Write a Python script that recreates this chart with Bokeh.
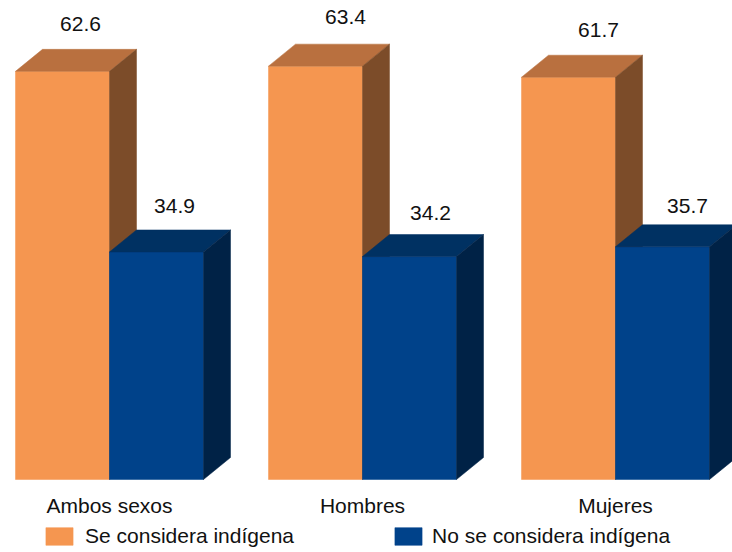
from bokeh.plotting import figure
from bokeh.models import Range1d, Legend, LegendItem, ColumnDataSource
from bokeh.embed import file_html
from bokeh.resources import INLINE
from bokeh.core.properties import value

# ---------------- data ----------------
categories = ["Ambos sexos", "Hombres", "Mujeres"]
series_names = ["Se considera indígena", "No se considera indígena"]
se_considera = [62.6, 63.4, 61.7]
no_se_considera = [34.9, 34.2, 35.7]

# ---------------- styling / geometry (screen px) ----------------
W, H = 732, 552
GROUP_PX = 253          # distance between group centres
BAR_PX = 94             # width of one front face
DEPTH_X_PX = 27         # 3D depth offset, horizontal
DEPTH_Y_PX = 22         # 3D depth offset, vertical
PX_PER_UNIT = 6.52      # vertical scale
LEFT_PX = 109           # frame x of first group centre
BOTTOM_PX = 73          # frame distance from bottom to baseline (value 0)

FONT = value("Liberation Sans")
FS = "21px"

orange = dict(front="#F59650", top="#B9703F", side="#7C4C29")
blue = dict(front="#00428A", top="#003162", side="#002246")

# per-label offsets (px) for value labels
label_dx = [[18, 30, 30], [18, 21, 25]]
label_dy = [[-47, -49, -47], [-46, -44, -41]]

x_range = Range1d(-LEFT_PX / GROUP_PX, (W - LEFT_PX) / GROUP_PX)
y_range = Range1d(-BOTTOM_PX / PX_PER_UNIT, (H - BOTTOM_PX) / PX_PER_UNIT)

p = figure(width=W, height=H, x_range=x_range, y_range=y_range,
           output_backend="svg", toolbar_location=None,
           x_axis_location=None, y_axis_location=None,
           min_border=0, outline_line_color=None,
           background_fill_color="white", border_fill_color="white")
p.grid.visible = False

bw = BAR_PX / GROUP_PX
dx = DEPTH_X_PX / GROUP_PX
dy = DEPTH_Y_PX / PX_PER_UNIT

front_renderers = []
for s, (vals, col) in enumerate([(se_considera, orange), (no_se_considera, blue)]):
    lefts = [i - bw + s * bw for i in range(len(categories))]
    rights = [l + bw for l in lefts]
    src = ColumnDataSource(dict(left=lefts, right=rights, top=vals,
                                bottom=[0] * len(vals)))
    fr = p.quad(left="left", right="right", top="top", bottom="bottom",
                source=src, fill_color=col["front"], line_color=col["front"],
                line_width=0.5)
    front_renderers.append(fr)
    top_xs = [[l, r, r + dx, l + dx] for l, r in zip(lefts, rights)]
    top_ys = [[t, t, t + dy, t + dy] for t in vals]
    p.patches(top_xs, top_ys, fill_color=col["top"], line_color=col["top"],
              line_width=0.5)
    side_xs = [[r, r + dx, r + dx, r] for r in rights]
    side_ys = [[0, dy, t + dy, t] for t in vals]
    p.patches(side_xs, side_ys, fill_color=col["side"], line_color=col["side"],
              line_width=0.5)

    centers = [(l + r) / 2 for l, r in zip(lefts, rights)]
    lsrc = ColumnDataSource(dict(x=centers, y=vals,
                                 t=[f"{v:.1f}" for v in vals],
                                 xo=label_dx[s], yo=label_dy[s]))
    p.text(x="x", y="y", text="t", x_offset="xo", y_offset="yo", source=lsrc,
           text_align="center", text_baseline="alphabetic",
           text_font=FONT, text_font_size=FS, text_color="#111111")

# category labels
csrc = ColumnDataSource(dict(x=list(range(len(categories))),
                             y=[0] * len(categories), t=categories))
p.text(x="x", y="y", text="t", source=csrc, y_offset=26,
       text_align="center", text_baseline="alphabetic",
       text_font=FONT, text_font_size=FS, text_color="#111111")

# legend (two separate one-item legends)
for r, name, loc, standoff in [(front_renderers[0], series_names[0], (42, 4), 9),
                               (front_renderers[1], series_names[1], (391, 4), 7)]:
    lg = Legend(items=[LegendItem(label=name, renderers=[r])], location=loc,
                orientation="horizontal", padding=0, margin=0, spacing=0,
                glyph_width=34, glyph_height=22, label_height=22,
                label_standoff=standoff, border_line_color=None,
                background_fill_alpha=0,
                label_text_font="Liberation Sans", label_text_font_size=FS,
                label_text_color="#111111")
    p.add_layout(lg)

open("out.html", "w").write(file_html(p, INLINE))
